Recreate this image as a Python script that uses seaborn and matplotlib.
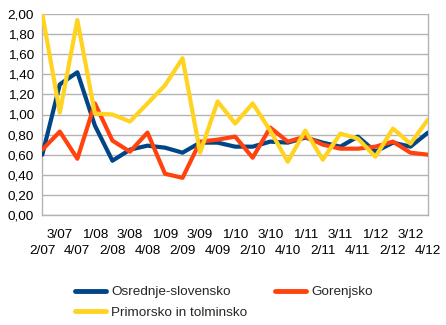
import matplotlib
matplotlib.use("Agg")
import matplotlib.pyplot as plt
import seaborn as sns
import pandas as pd

quarters = ["2/07", "3/07", "4/07", "1/08", "2/08", "3/08", "4/08", "1/09", "2/09", "3/09",
            "4/09", "1/10", "2/10", "3/10", "4/10", "1/11", "2/11", "3/11", "4/11", "1/12",
            "2/12", "3/12", "4/12"]
osrednje = [0.60, 1.30, 1.42, 0.89, 0.54, 0.65, 0.69, 0.67, 0.62, 0.72, 0.72, 0.68, 0.68, 0.73,
            0.72, 0.77, 0.72, 0.68, 0.78, 0.63, 0.72, 0.68, 0.82]
gorenjsko = [0.65, 0.83, 0.56, 1.11, 0.74, 0.63, 0.82, 0.41, 0.37, 0.73, 0.75, 0.78, 0.57, 0.87,
             0.73, 0.78, 0.70, 0.66, 0.66, 0.68, 0.73, 0.62, 0.60]
primorsko = [2.00, 1.02, 1.94, 1.01, 1.00, 0.93, 1.11, 1.29, 1.56, 0.62, 1.13, 0.91, 1.11, 0.84,
             0.53, 0.84, 0.55, 0.81, 0.76, 0.58, 0.86, 0.71, 0.95]
series_names = ["Osrednje-slovensko", "Gorenjsko", "Primorsko in tolminsko"]
y_ticks = [0.0, 0.2, 0.4, 0.6, 0.8, 1.0, 1.2, 1.4, 1.6, 1.8, 2.0]

colors = ["#004586", "#ff420e", "#ffd320"]

rows = []
for name, vals in zip(series_names, [osrednje, gorenjsko, primorsko]):
    for i, (q, v) in enumerate(zip(quarters, vals)):
        rows.append({"idx": i, "quarter": q, "value": v, "series": name})
df = pd.DataFrame(rows)

sns.set_style("white")
plt.rcParams["font.family"] = ["Liberation Sans", "DejaVu Sans"]
fs = 9.7
grid_c = "#b3b3b3"

fig = plt.figure(figsize=(4.46, 3.25), dpi=100)
ax = fig.add_axes([42.3 / 446, 1 - 215 / 325, (428 - 42.3) / 446, (215 - 14) / 325])

sns.lineplot(data=df, x="idx", y="value", hue="series", hue_order=series_names,
             palette=colors, linewidth=3, ax=ax, legend=True, zorder=3)

ax.set_xlim(0, len(quarters) - 1)
ax.set_ylim(0, 2.0)
ax.set_yticks(y_ticks)
ax.set_yticklabels([f"{t:.2f}".replace(".", ",") for t in y_ticks], fontsize=fs)

even_idx = [i for i in range(len(quarters)) if i % 2 == 0]
odd_idx = [i for i in range(len(quarters)) if i % 2 == 1]
ax.set_xticks(even_idx)
ax.set_xticklabels([quarters[i] for i in even_idx], fontsize=fs)
ax.set_xticks(odd_idx, minor=True)
ax.set_xticklabels([quarters[i] for i in odd_idx], minor=True, fontsize=fs)
ax.set_xlabel("")
ax.set_ylabel("")
ax.grid(axis="y", which="major", color=grid_c, linewidth=1)
ax.set_axisbelow(True)
for side in ["left", "right", "bottom"]:
    ax.spines[side].set_color(grid_c)
    ax.spines[side].set_linewidth(1)
ax.spines["top"].set_visible(False)
ax.tick_params(axis="y", length=4, color=grid_c, width=1, direction="out", pad=2,
               labelcolor="black")
ax.tick_params(axis="x", which="major", length=4, color=grid_c, width=1, direction="out",
               pad=17.5, labelcolor="black")
ax.tick_params(axis="x", which="minor", length=4, color=grid_c, width=1, direction="out",
               pad=6, labelcolor="black", labelsize=fs)

handles, labels = ax.get_legend_handles_labels()
ax.get_legend().remove()
order = [0, 2, 1]
leg = fig.legend([handles[i] for i in order], [labels[i] for i in order], loc="upper left",
                 bbox_to_anchor=(75 / 446, 1 - 286 / 325),
                 ncol=2, frameon=False, fontsize=fs, borderpad=0, borderaxespad=0,
                 handlelength=2.3, handletextpad=0.4, columnspacing=2.0, labelspacing=0.62)
for h in leg.get_lines():
    h.set_linewidth(3.5)

fig.savefig("out.png", dpi=100)
